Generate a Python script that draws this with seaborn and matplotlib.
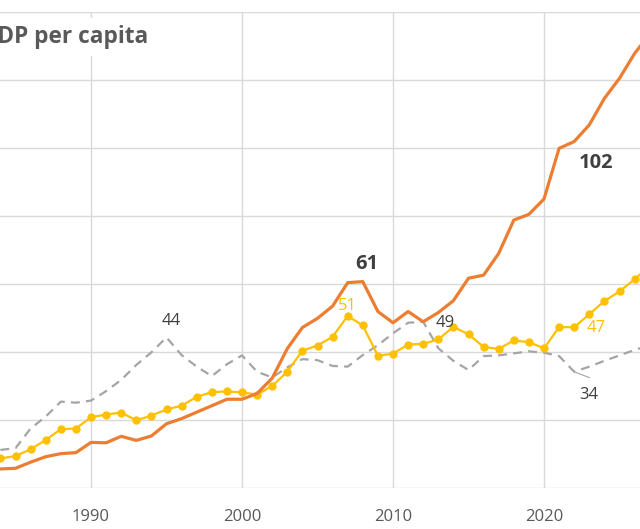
import numpy as np
import pandas as pd
import matplotlib
matplotlib.use("Agg")
import matplotlib.pyplot as plt
import seaborn as sns

# --- data ---
years = list(range(1984, 2028))

orange_vals = [5.6, 5.8, 7.6, 9.2, 10.1, 10.4, 13.4, 13.3, 15.2, 14.0,
               15.3, 18.9, 20.4, 22.3, 24.2, 26.1, 26.1, 27.8, 32.3, 41.0,
               47.2, 49.9, 53.5, 60.4, 60.7, 51.9, 48.6, 51.9, 48.9, 51.6,
               55.1, 61.7, 62.6, 69.0, 78.8, 80.5, 85.0, 99.9, 101.9, 106.8,
               114.6, 120.5, 127.8, 133.5]

yellow_vals = [8.7, 9.4, 11.4, 14.1, 17.3, 17.5, 20.8, 21.6, 22.2, 19.9,
               21.3, 23.1, 24.2, 26.8, 28.2, 28.4, 28.1, 27.5, 30.0, 34.2,
               40.4, 41.9, 44.5, 50.6, 47.8, 38.9, 39.5, 42.2, 42.4, 43.7,
               47.4, 45.2, 41.5, 40.9, 43.4, 42.9, 41.1, 47.3, 47.3, 51.1,
               55.0, 57.8, 61.4, 65.3]

gray_vals = [11.2, 11.7, 17.5, 21.0, 25.4, 25.1, 25.7, 28.5, 31.8, 36.2,
             39.9, 44.3, 39.1, 35.7, 32.9, 36.4, 39.0, 34.2, 32.5, 35.5,
             37.9, 37.6, 35.9, 35.7, 39.1, 42.0, 45.5, 48.6, 48.9, 41.1,
             37.4, 34.7, 38.8, 39.0, 39.6, 40.2, 39.8, 38.8, 34.2, 35.7,
             37.4, 39.0, 40.6, 42.0]

x_ticks = [1990, 2000, 2010, 2020]
y_grid = [0, 20, 40, 60, 80, 100, 120, 140]

title_text = "GDP per capita"

ORANGE = "#ED7D31"
YELLOW = "#FFC000"
GRAY = "#A5A5A5"
DARK = "#404040"
MID = "#595959"

sns.set_theme(style="white")
plt.rcParams['font.family'] = ['Open Sans', 'DejaVu Sans']

fig = plt.figure(figsize=(6.4, 5.29), dpi=100)
# the reference is a crop of a wider chart: axes run past both edges
ax = fig.add_axes([0, 41 / 529, 1, 476 / 529])

sns.lineplot(x=years, y=gray_vals, ax=ax, color=GRAY, linewidth=1.6,
             linestyle=(0, (4, 2.8)), zorder=2)
sns.lineplot(x=years, y=yellow_vals, ax=ax, color=YELLOW, linewidth=1.6,
             marker="o", markersize=6, markeredgewidth=0, zorder=3)
sns.lineplot(x=years, y=orange_vals, ax=ax, color=ORANGE, linewidth=2.3,
             zorder=4)

ax.set_xlim(1990 - 91 / 15.1, 1990 + 549 / 15.1)
ax.set_ylim(0, 140)
ax.set_xticks(x_ticks)
ax.set_xticklabels([str(t) for t in x_ticks])
ax.set_yticks(y_grid)
ax.set_yticklabels([])
ax.grid(True, color="#D9D9D9", linewidth=1.0)
ax.set_axisbelow(True)
for sp in ax.spines.values():
    sp.set_visible(False)
ax.tick_params(axis="x", length=0, pad=15, labelsize=12, labelcolor=MID)
ax.tick_params(axis="y", length=0)
ax.set_xlabel("")
ax.set_ylabel("")

# data labels
def label(x, y, txt, dx, dy, color=DARK, size=12, weight="normal"):
    ax.annotate(txt, xy=(x, y), xytext=(dx, dy), textcoords="offset points",
                ha="center", va="center", color=color, fontsize=size,
                fontweight=weight, zorder=6)

i = years.index
label(1995, gray_vals[i(1995)], "44", 3.6, 11.5)
label(2008, orange_vals[i(2008)], "61", 3, 13, size=14.5, weight="bold")
label(2007, yellow_vals[i(2007)], "51", 0, 7.5, color=YELLOW)
label(2012, gray_vals[i(2012)], "49", 15.8, -1)
label(2022, yellow_vals[i(2022)], "47", 15.6, -0.7, color=YELLOW)
label(2022, orange_vals[i(2022)], "102", 15.8, -15.3, size=14.5, weight="bold")
label(2022, gray_vals[i(2022)], "34", 10.8, -16.8)
# leader line for the 34 label
ax.annotate("", xy=(2022, gray_vals[i(2022)]), xytext=(11, -4.3),
            textcoords="offset points",
            arrowprops=dict(arrowstyle="-", color=GRAY, lw=0.8,
                            shrinkA=0, shrinkB=0))

# title, its left part falls outside the crop as in the reference
fig.text(148 / 640, 1 - 43 / 529, title_text, ha="right", va="baseline",
         fontsize=16.3, fontweight="bold", color=MID,
         bbox=dict(facecolor="white", edgecolor="none", pad=5))

fig.savefig("out.png", dpi=100)
